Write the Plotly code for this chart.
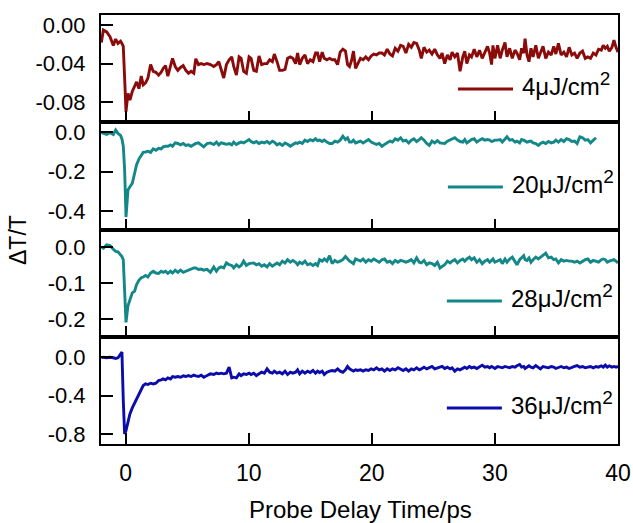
import plotly.graph_objects as go

# Probe delay times (ps)
time_ps = [
    -1.97, -1.81, -1.54, -1.27, -1.00, -0.81, -0.62, -0.41, -0.30, -0.19,
    -0.08, 0.03, 0.19, 0.35, 0.54, 0.73, 0.89, 1.08, 1.27, 1.43,
    1.62, 1.81, 2.03, 2.24, 2.46, 2.68, 2.89, 3.05, 3.24, 3.43,
    3.65, 3.81, 4.03, 4.24, 4.46, 4.68, 4.89, 5.11, 5.32, 5.54,
    5.70, 5.92, 6.14, 6.35, 6.62, 6.89, 7.16, 7.38, 7.57, 7.76,
    7.97, 8.19, 8.41, 8.62, 8.78, 9.00, 9.22, 9.38, 9.59, 9.81,
    10.03, 10.19, 10.41, 10.62, 10.84, 11.05, 11.27, 11.49, 11.70, 11.92,
    12.08, 12.30, 12.51, 12.73, 12.95, 13.16, 13.38, 13.59, 13.81, 13.97,
    14.14, 14.35, 14.57, 14.78, 15.00, 15.22, 15.43, 15.59, 15.76, 15.97,
    16.14, 16.35, 16.57, 16.78, 17.00, 17.22, 17.43, 17.65, 17.86, 18.03,
    18.19, 18.35, 18.51, 18.68,
    18.86, 19.08, 19.29, 19.51, 19.73, 19.95, 20.16, 20.38, 20.60, 20.82,
    21.03, 21.25, 21.47, 21.68, 21.90, 22.12, 22.34, 22.55, 22.77, 22.99,
    23.21, 23.42, 23.64, 23.86, 24.02, 24.24, 24.46, 24.67, 24.89, 25.11,
    25.33, 25.54, 25.71, 25.92, 26.14, 26.36, 26.52, 26.74, 26.96, 27.17,
    27.39, 27.55, 27.72, 27.93, 28.10, 28.32, 28.53, 28.75, 28.97, 29.18,
    29.40, 29.57, 29.73, 29.84, 30.00, 30.22, 30.43, 30.60, 30.82, 30.98,
    31.20, 31.41, 31.63, 31.79, 32.01, 32.17, 32.34, 32.45, 32.61, 32.77,
    32.93, 33.10, 33.32, 33.53, 33.70, 33.91, 34.13, 34.35, 34.57, 34.78,
    34.95, 35.16, 35.38, 35.60, 35.82, 36.03, 36.25, 36.47, 36.68, 36.90,
    37.12, 37.34, 37.55, 37.77, 37.99, 38.21, 38.42, 38.64, 38.80, 38.97,
    39.13, 39.29, 39.51, 39.67, 39.84, 40.00,
]

# dT/T at 4 uJ/cm^2
dtt_4 = [
    -0.018, -0.005, -0.007, -0.012, -0.021, -0.0145, -0.019, -0.0166, -0.019, -0.022,
    -0.055, -0.090, -0.071, -0.078, -0.069, -0.064, -0.059, -0.066, -0.053, -0.062,
    -0.060, -0.055, -0.041, -0.048, -0.049, -0.052, -0.049, -0.045, -0.042, -0.053,
    -0.041, -0.0345, -0.043, -0.047, -0.044, -0.042, -0.047, -0.050, -0.048, -0.050,
    -0.035, -0.041, -0.040, -0.041, -0.040, -0.041, -0.043, -0.041, -0.038, -0.047,
    -0.055, -0.041, -0.036, -0.033, -0.043, -0.052, -0.033, -0.0345, -0.048, -0.050,
    -0.033, -0.0345, -0.047, -0.048, -0.032, -0.041, -0.040, -0.040, -0.036, -0.038,
    -0.030, -0.038, -0.047, -0.047, -0.046, -0.0345, -0.033, -0.0345, -0.040, -0.029,
    -0.041, -0.0345, -0.031, -0.040, -0.036, -0.038, -0.029, -0.029, -0.038, -0.028,
    -0.0345, -0.036, -0.0345, -0.036, -0.036, -0.041, -0.028, -0.025, -0.027, -0.041,
    -0.043, -0.037, -0.027, -0.045,
    -0.040, -0.0345, -0.036, -0.033, -0.036, -0.032, -0.030, -0.031, -0.029, -0.029,
    -0.031, -0.025, -0.030, -0.032, -0.024, -0.027, -0.021, -0.022, -0.029, -0.020,
    -0.023, -0.018, -0.019, -0.026, -0.0345, -0.023, -0.028, -0.026, -0.030, -0.025,
    -0.031, -0.0345, -0.029, -0.040, -0.031, -0.036, -0.028, -0.033, -0.029, -0.048,
    -0.033, -0.027, -0.040, -0.031, -0.033, -0.025, -0.033, -0.026, -0.0345, -0.029,
    -0.022, -0.029, -0.041, -0.021, -0.0345, -0.021, -0.0345, -0.026, -0.018, -0.033,
    -0.024, -0.0345, -0.026, -0.029, -0.036, -0.024, -0.029, -0.014, -0.031, -0.038,
    -0.024, -0.033, -0.021, -0.0345, -0.028, -0.022, -0.0345, -0.028, -0.031, -0.022,
    -0.030, -0.019, -0.031, -0.028, -0.033, -0.023, -0.031, -0.029, -0.0345, -0.029,
    -0.027, -0.0345, -0.033, -0.0345, -0.029, -0.031, -0.025, -0.026, -0.021, -0.024,
    -0.022, -0.027, -0.023, -0.0155, -0.023, -0.028,
]

# dT/T at 20 uJ/cm^2 (ends near 38 ps)
dtt_20 = [
    -0.003, -0.007, -0.012, -0.003, -0.012, 0.010, -0.007, -0.017, -0.035, -0.072,
    -0.191, -0.431, -0.294, -0.277, -0.260, -0.209, -0.166, -0.137, -0.115, -0.103,
    -0.101, -0.097, -0.103, -0.085, -0.092, -0.082, -0.085, -0.075, -0.072, -0.072,
    -0.065, -0.072, -0.055, -0.058, -0.065, -0.058, -0.068, -0.065, -0.072, -0.062,
    -0.058, -0.055, -0.063, -0.075, -0.058, -0.055, -0.063, -0.051, -0.065, -0.055,
    -0.058, -0.062, -0.058, -0.065, -0.051, -0.063, -0.055, -0.051, -0.055, -0.048,
    -0.038, -0.048, -0.055, -0.048, -0.058, -0.051, -0.055, -0.048, -0.058, -0.046,
    -0.051, -0.065, -0.058, -0.068, -0.055, -0.062, -0.072, -0.063, -0.055, -0.058,
    -0.051, -0.058, -0.041, -0.048, -0.038, -0.044, -0.034, -0.044, -0.041, -0.048,
    -0.041, -0.051, -0.058, -0.058, -0.046, -0.051, -0.041, -0.021, -0.038, -0.029,
    -0.051, -0.051, -0.041, -0.055,
    -0.051, -0.046, -0.055, -0.048, -0.038, -0.051, -0.058, -0.063, -0.058, -0.072,
    -0.063, -0.055, -0.046, -0.051, -0.034, -0.041, -0.029, -0.046, -0.041, -0.055,
    -0.041, -0.034, -0.048, -0.038, -0.029, -0.041, -0.058, -0.068, -0.046, -0.055,
    -0.044, -0.055, -0.055, -0.058, -0.046, -0.041, -0.034, -0.029, -0.041, -0.048,
    -0.051, -0.038, -0.055, -0.046, -0.038, -0.034, -0.051, -0.041, -0.034, -0.041,
    -0.038, -0.041, -0.048, -0.046, -0.041, -0.041, -0.038, -0.051, -0.038, -0.024,
    -0.041, -0.038, -0.051, -0.046, -0.055, -0.038, -0.041, -0.046, -0.051, -0.048,
    -0.046, -0.055, -0.058, -0.068, -0.058, -0.051, -0.058, -0.048, -0.055, -0.051,
    -0.041, -0.051, -0.038, -0.048, -0.034, -0.038, -0.048, -0.046, -0.058, -0.024,
    -0.029, -0.041, -0.038, -0.055, -0.041, -0.029,
]

# dT/T at 28 uJ/cm^2
dtt_28 = [
    0.000, -0.003, 0.006, 0.004, -0.006, -0.012, -0.013, -0.021, -0.026, -0.035,
    -0.108, -0.209, -0.163, -0.149, -0.127, -0.122, -0.104, -0.092, -0.085, -0.083,
    -0.079, -0.083, -0.072, -0.067, -0.072, -0.073, -0.067, -0.070, -0.067, -0.073,
    -0.067, -0.072, -0.064, -0.070, -0.064, -0.070, -0.067, -0.064, -0.059, -0.058,
    -0.058, -0.062, -0.061, -0.064, -0.062, -0.070, -0.055, -0.067, -0.058, -0.055,
    -0.058, -0.044, -0.049, -0.051, -0.058, -0.049, -0.055, -0.051, -0.039, -0.051,
    -0.046, -0.046, -0.044, -0.049, -0.046, -0.053, -0.049, -0.055, -0.046, -0.053,
    -0.049, -0.044, -0.049, -0.039, -0.044, -0.035, -0.042, -0.037, -0.042, -0.049,
    -0.042, -0.046, -0.039, -0.049, -0.046, -0.051, -0.046, -0.051, -0.035, -0.039,
    -0.033, -0.039, -0.024, -0.046, -0.037, -0.042, -0.039, -0.035, -0.026, -0.033,
    -0.039, -0.042, -0.046, -0.033,
    -0.035, -0.039, -0.033, -0.042, -0.035, -0.039, -0.033, -0.037, -0.042, -0.035,
    -0.033, -0.042, -0.039, -0.046, -0.037, -0.042, -0.037, -0.039, -0.042, -0.039,
    -0.035, -0.044, -0.030, -0.042, -0.044, -0.037, -0.049, -0.044, -0.046, -0.051,
    -0.042, -0.058, -0.053, -0.049, -0.039, -0.044, -0.039, -0.035, -0.044, -0.037,
    -0.033, -0.039, -0.033, -0.028, -0.035, -0.030, -0.042, -0.035, -0.046, -0.039,
    -0.035, -0.042, -0.037, -0.033, -0.042, -0.039, -0.035, -0.046, -0.033, -0.042,
    -0.033, -0.028, -0.039, -0.049, -0.035, -0.030, -0.024, -0.035, -0.037, -0.030,
    -0.042, -0.035, -0.028, -0.033, -0.028, -0.021, -0.017, -0.030, -0.028, -0.035,
    -0.033, -0.044, -0.035, -0.039, -0.037, -0.039, -0.039, -0.042, -0.039, -0.044,
    -0.039, -0.035, -0.033, -0.042, -0.037, -0.039, -0.042, -0.035, -0.033, -0.035,
    -0.042, -0.039, -0.037, -0.035, -0.039, -0.044,
]

# dT/T at 36 uJ/cm^2
dtt_36 = [
    -0.003, 0.003, -0.003, 0.003, -0.003, -0.010, -0.003, 0.031, 0.056, -0.450,
    -0.800, -0.765, -0.678, -0.590, -0.527, -0.479, -0.433, -0.388, -0.339, -0.293,
    -0.276, -0.283, -0.269, -0.276, -0.269, -0.241, -0.234, -0.224, -0.234, -0.213,
    -0.224, -0.199, -0.206, -0.199, -0.206, -0.192, -0.199, -0.189, -0.199, -0.185,
    -0.192, -0.199, -0.185, -0.206, -0.189, -0.171, -0.178, -0.164, -0.171, -0.164,
    -0.171, -0.164, -0.101, -0.213, -0.206, -0.213, -0.171, -0.189, -0.171, -0.178,
    -0.164, -0.178, -0.164, -0.189, -0.171, -0.154, -0.164, -0.119, -0.154, -0.164,
    -0.143, -0.164, -0.154, -0.171, -0.143, -0.178, -0.154, -0.164, -0.154, -0.129,
    -0.171, -0.143, -0.164, -0.143, -0.157, -0.136, -0.164, -0.143, -0.157, -0.143,
    -0.178, -0.154, -0.143, -0.136, -0.143, -0.119, -0.143, -0.154, -0.129, -0.094,
    -0.119, -0.129, -0.143, -0.129,
    -0.136, -0.129, -0.143, -0.129, -0.136, -0.119, -0.129, -0.108, -0.129, -0.119,
    -0.143, -0.119, -0.136, -0.119, -0.129, -0.108, -0.119, -0.136, -0.119, -0.143,
    -0.119, -0.129, -0.108, -0.129, -0.119, -0.101, -0.119, -0.108, -0.094, -0.119,
    -0.108, -0.101, -0.094, -0.115, -0.101, -0.119, -0.108, -0.143, -0.119, -0.129,
    -0.108, -0.101, -0.115, -0.094, -0.108, -0.101, -0.115, -0.101, -0.080, -0.101,
    -0.094, -0.108, -0.094, -0.101, -0.115, -0.094, -0.101, -0.108, -0.094, -0.101,
    -0.108, -0.094, -0.101, -0.087, -0.073, -0.101, -0.094, -0.115, -0.101, -0.087,
    -0.101, -0.108, -0.084, -0.101, -0.119, -0.094, -0.101, -0.108, -0.094, -0.101,
    -0.115, -0.101, -0.094, -0.108, -0.101, -0.115, -0.101, -0.094, -0.084, -0.101,
    -0.094, -0.108, -0.101, -0.094, -0.108, -0.094, -0.101, -0.087, -0.101, -0.080,
    -0.101, -0.087, -0.101, -0.094, -0.101, -0.094,
]

SUP2 = "<sup><span style='font-size:19px'>2</span></sup>"
series_labels = ["4μJ/cm" + SUP2, "20μJ/cm" + SUP2, "28μJ/cm" + SUP2, "36μJ/cm" + SUP2]
series_values = [dtt_4, dtt_20, dtt_28, dtt_36]
colors = ["#8b0b0b", "#148888", "#148888", "#0c0cab"]

y_tickvals = [[0.0, -0.04, -0.08], [0.0, -0.2, -0.4], [0.0, -0.1, -0.2], [0.0, -0.4, -0.8]]
y_ticktext = [["0.00", "-0.04", "-0.08"], ["0.0", "-0.2", "-0.4"], ["0.0", "-0.1", "-0.2"], ["0.0", "-0.4", "-0.8"]]
y_ranges = [[-0.101, 0.0106], [-0.494, 0.0497], [-0.2488, 0.0488], [-0.905, 0.217]]
x_tickvals = [0, 10, 20, 30, 40]

FONT = "Liberation Sans, Arial, sans-serif"

fig = go.Figure()
for i, (vals, col) in enumerate(zip(series_values, colors)):
    sfx = "" if i == 0 else str(i + 1)
    fig.add_trace(go.Scatter(
        x=time_ps[:len(vals)], y=vals, mode="lines",
        line=dict(color=col, width=2.9),
        xaxis="x" + sfx, yaxis="y" + sfx, showlegend=False,
    ))

domains = [[0.75, 1.0], [0.5, 0.75], [0.25, 0.5], [0.0, 0.25]]
layout = dict(
    width=633, height=523, autosize=False,
    margin=dict(l=101, r=15, t=15, b=79, autoexpand=False),
    paper_bgcolor="white", plot_bgcolor="white",
    font=dict(family=FONT, color="black", size=22),
    showlegend=False,
)
for i in range(4):
    sfx = "" if i == 0 else str(i + 1)
    layout["xaxis" + sfx] = dict(
        domain=[0, 1], anchor="y" + sfx, range=[-2, 40],
        tickvals=x_tickvals, ticks="inside", ticklen=11, tickwidth=2, tickcolor="black",
        showticklabels=(i == 3), showline=True, mirror=True, linecolor="black", linewidth=2,
        showgrid=False, zeroline=False, ticklabelstandoff=7, automargin=False,
        tickfont=dict(family=FONT, size=23, color="black"),
    )
    layout["yaxis" + sfx] = dict(
        domain=domains[i], anchor="x" + sfx, range=y_ranges[i],
        tickvals=y_tickvals[i], ticktext=y_ticktext[i],
        ticks="inside", ticklen=12, tickwidth=2, tickcolor="black",
        showline=True, mirror=True, linecolor="black", linewidth=2,
        showgrid=False, zeroline=False, ticklabelstandoff=9, automargin=False,
        tickfont=dict(family=FONT, size=22, color="black"),
    )
fig.update_layout(**layout)

# legend-like keys (line + label) inside each panel
key_y = [0.8275, 0.599, 0.3333, 0.0839]
key_x0 = [0.6905, 0.671, 0.669, 0.669]
shapes, annotations = [], []
for i in range(4):
    shapes.append(dict(type="line", xref="paper", yref="paper",
                       x0=key_x0[i], x1=key_x0[i] + 0.1064, y0=key_y[i], y1=key_y[i],
                       line=dict(color=colors[i], width=2.9)))
    annotations.append(dict(xref="paper", yref="paper", x=key_x0[i] + 0.1195, y=key_y[i] + 0.012,
                            xanchor="left", yanchor="middle", showarrow=False,
                            text=series_labels[i], font=dict(family=FONT, size=24, color="black")))
annotations.append(dict(xref="paper", yref="paper", x=-0.1605, y=0.4755, textangle=-90,
                        xanchor="center", yanchor="middle", showarrow=False, text="ΔT/T",
                        font=dict(family=FONT, size=23, color="black")))
annotations.append(dict(xref="paper", yref="paper", x=0.501, y=-0.1538,
                        xanchor="center", yanchor="middle", showarrow=False,
                        text="Probe Delay Time/ps", font=dict(family=FONT, size=24, color="black")))
fig.update_layout(shapes=shapes, annotations=annotations)

fig.write_html("out.html", config={"displayModeBar": False},
               post_script="document.body.style.margin='0';document.body.style.overflow='hidden';")
